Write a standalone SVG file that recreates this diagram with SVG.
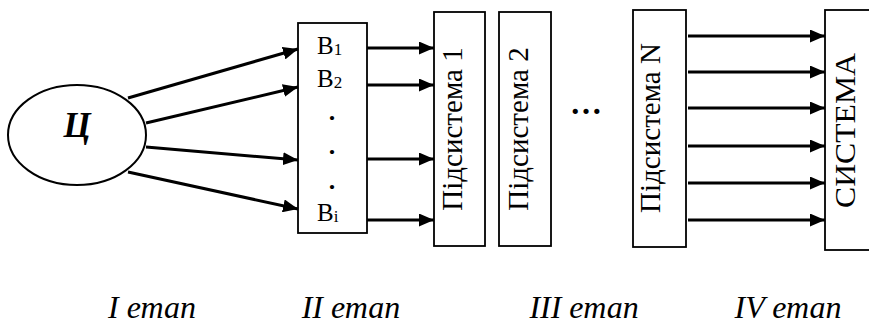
<svg xmlns="http://www.w3.org/2000/svg" width="869" height="326" viewBox="0 0 869 326">
  <defs>
    <marker id="arrow" viewBox="0 0 15 13" refX="15" refY="6.5" markerWidth="15" markerHeight="13" markerUnits="userSpaceOnUse" orient="auto">
      <path d="M0,0 L15,6.5 L0,13 Z" fill="#000"/>
    </marker>
    <style>
      .box { fill: #fff; stroke: #000; stroke-width: 1.8; }
      .conn { stroke: #000; stroke-width: 3; fill: none; marker-end: url(#arrow); }
      text { font-family: "Liberation Serif", serif; fill: #000; }
      .vert { font-size: 29px; text-anchor: middle; }
      .item { font-size: 25px; }
      .sub { font-size: 17px; }
      .dot { font-size: 26px; font-weight: bold; text-anchor: middle; }
      .stage { font-size: 32px; font-style: italic; text-anchor: middle; }
    </style>
  </defs>
  <rect width="869" height="326" fill="#fff"/>

  <!-- goal -->
  <g id="goal">
    <ellipse cx="77" cy="135" rx="69" ry="50" fill="#fff" stroke="#000" stroke-width="2"/>
    <text font-family="Liberation Serif, serif" x="77" y="137" font-size="35" font-weight="bold" font-style="italic" text-anchor="middle">Ц</text>
  </g>

  <!-- requirements block -->
  <g id="requirements">
    <rect class="box" x="298" y="23" width="69" height="210"/>
    <text class="item" x="317" y="54">В<tspan class="sub" dy="1">1</tspan></text>
    <text class="item" x="317" y="87">В<tspan class="sub" dy="1">2</tspan></text>
    <text class="dot" x="332" y="120">.</text>
    <text class="dot" x="332" y="154">.</text>
    <text class="dot" x="332" y="189">.</text>
    <text class="item" x="317" y="221">В<tspan class="sub" dy="1">i</tspan></text>
  </g>

  <!-- subsystems -->
  <g id="subsystem1">
    <rect class="box" x="434" y="12" width="51" height="234"/>
    <text class="vert" transform="translate(462,129) rotate(-90)">Підсистема 1</text>
  </g>
  <g id="subsystem2">
    <rect class="box" x="499" y="12" width="52" height="234"/>
    <text class="vert" transform="translate(528,129) rotate(-90)">Підсистема 2</text>
  </g>
  <g id="ellipsis">
    <text x="586" y="113.5" font-size="32" font-weight="bold" text-anchor="middle">…</text>
  </g>
  <g id="subsystemN">
    <rect class="box" x="633" y="10" width="53" height="237"/>
    <text class="vert" transform="translate(660,128) rotate(-90)">Підсистема N</text>
  </g>

  <!-- system -->
  <g id="system">
    <rect class="box" x="825" y="10" width="60" height="240"/>
    <text font-size="30" text-anchor="middle" textLength="155" lengthAdjust="spacingAndGlyphs" transform="translate(855,130.5) rotate(-90)">СИСТЕМА</text>
  </g>

  <!-- connectors -->
  <g id="connectors">
    <line class="conn" x1="128" y1="98" x2="298" y2="49"/>
    <line class="conn" x1="146" y1="123" x2="298" y2="87"/>
    <line class="conn" x1="146" y1="147" x2="298" y2="160"/>
    <line class="conn" x1="128" y1="172" x2="298" y2="209"/>

    <line class="conn" x1="367" y1="48" x2="434" y2="48"/>
    <line class="conn" x1="367" y1="85" x2="434" y2="85"/>
    <line class="conn" x1="367" y1="159" x2="434" y2="159"/>
    <line class="conn" x1="367" y1="220" x2="434" y2="220"/>

    <line class="conn" x1="688" y1="36" x2="825" y2="36"/>
    <line class="conn" x1="688" y1="72" x2="825" y2="72"/>
    <line class="conn" x1="688" y1="108" x2="825" y2="108"/>
    <line class="conn" x1="688" y1="146" x2="825" y2="146"/>
    <line class="conn" x1="688" y1="183" x2="825" y2="183"/>
    <line class="conn" x1="688" y1="220" x2="825" y2="220"/>
  </g>

  <!-- stage labels -->
  <g id="stages">
    <text class="stage" x="152" y="318">I етап</text>
    <text class="stage" x="351" y="318">II етап</text>
    <text class="stage" x="584" y="318">III етап</text>
    <text class="stage" x="788" y="318">IV етап</text>
  </g>
</svg>
